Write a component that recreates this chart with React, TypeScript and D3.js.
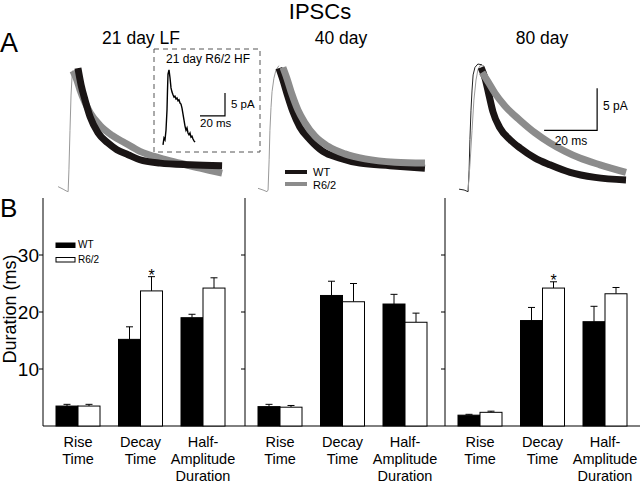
import React from "react"
import * as d3 from "d3"

// ---- bar data (ms) ----
const categories = ["Rise Time", "Decay Time", "Half-Amplitude Duration"]
const catLines = [["Rise", "Time"], ["Decay", "Time"], ["Half-", "Amplitude", "Duration"]]
const ages = ["21 day LF", "40 day", "80 day"]

const wtMean = [
    [3.5, 15.2, 19.0],
    [3.4, 22.9, 21.4],
    [1.9, 18.5, 18.3]
]
const wtSem = [
    [0.3, 2.2, 0.6],
    [0.4, 2.5, 1.7],
    [0.15, 2.3, 2.7]
]
const r62Mean = [
    [3.5, 23.7, 24.2],
    [3.3, 21.8, 18.2],
    [2.4, 24.2, 23.2]
]
const r62Sem = [
    [0.3, 2.5, 1.8],
    [0.3, 3.2, 1.6],
    [0.2, 1.1, 1.1]
]
const signif = [
    [false, true, false],
    [false, false, false],
    [false, true, false]
]
const yTicks = [10, 20, 30]

// ---- IPSC traces, [ms, pA] ----
const rawTrace = [
    [[0.4, 0.4], [2.3, 0.1], [3.4, -0.1], [4.2, -0.2], [4.5, 2.4], [4.9, 7.1], [5.3, 11.3], [5.7, 13.6], [6.0, 14.2], [6.8, 13.9]],
    [[0, 0.2], [1.9, 0], [3.4, -0.2], [3.8, 0], [4.2, 3.6], [4.5, 7.1], [4.9, 9.8], [5.3, 11.7], [6.0, 13.3], [6.8, 14.3], [7.9, 14.8]],
    [[0.4, 0.1], [2.3, 0], [3.8, -0.2], [4.2, 2.4], [4.5, 6.0], [4.9, 9.5], [5.3, 11.9], [5.7, 13.7], [6.4, 14.6], [7.5, 15.0], [9.1, 14.9]]
]
const rawTraceGray80 = [[3.8, 0], [4.5, 3.0], [5.3, 7.1], [6.0, 10.7], [6.8, 13.1], [7.5, 14.3], [8.3, 14.8], [9.8, 14.8]]

const wtFit = [
    [[7.9, 14.5], [9.1, 12.5], [10.6, 10.7], [12.5, 8.7], [15.5, 6.8], [19.2, 5.6], [22.6, 4.8], [26.8, 4.2], [31.3, 3.6], [38.9, 3.2], [50.2, 3.0], [62.3, 2.9]],
    [[7.9, 14.5], [9.4, 13.1], [11.3, 11.1], [13.2, 9.3], [15.8, 7.5], [19.6, 6.0], [24.5, 4.6], [30.9, 3.8], [38.5, 3.2], [49.8, 2.9], [63.0, 2.6]],
    [[8.7, 14.6], [10.2, 13.3], [11.7, 11.3], [13.2, 9.3], [15.8, 7.4], [19.6, 6.0], [23.4, 5.0], [29.1, 3.8], [34.7, 3.0], [42.3, 2.1], [51.7, 1.5], [63.4, 1.2]]
]
const r62Fit = [
    [[6.0, 14.2], [7.5, 13.1], [8.7, 11.9], [10.6, 10.4], [12.5, 9.2], [16.2, 7.7], [20.8, 6.5], [25.7, 5.6], [31.3, 4.6], [38.9, 3.8], [46.4, 3.2], [54.0, 2.6], [62.3, 2.0]],
    [[9.4, 14.6], [10.9, 13.3], [12.8, 11.4], [15.1, 9.5], [17.7, 8.0], [21.5, 6.4], [26.4, 5.2], [32.8, 4.3], [40.4, 3.7], [51.7, 3.3], [63.0, 3.2]],
    [[9.1, 14.0], [11.3, 12.9], [14.0, 11.5], [17.7, 10.0], [23.4, 8.3], [29.1, 6.8], [34.7, 5.6], [40.4, 4.6], [46.0, 3.8], [53.6, 3.0], [63.4, 2.1]]
]
// inset: 21 day R6/2 HF
const hfTrace = [
    [2.4, 1.1], [3.2, 2.6], [4.0, 2.2], [4.8, 4.3], [5.6, 8.7], [6.0, 13.0], [6.4, 16.5], [7.2, 17.4], [8.0, 15.7], [8.8, 13.5],
    [9.6, 12.6], [10.4, 12.0], [11.2, 11.5], [12.0, 11.7], [12.8, 11.1], [13.6, 11.3], [14.4, 10.7], [15.2, 10.9], [16.0, 10.2],
    [16.8, 10.0], [17.6, 9.1], [18.4, 7.8], [19.2, 6.5], [20.0, 5.2], [20.8, 4.3], [21.6, 4.8], [22.4, 3.7], [23.2, 3.3],
    [24.0, 3.7], [24.8, 2.8], [25.6, 3.0], [26.4, 2.4], [27.2, 2.0], [28.0, 1.7]
]

const FONT = "'Liberation Sans', Arial, Helvetica, sans-serif"
const BLACK = "#1a1515"
const GRAY = "#8c8c8c"

export default function App() {
    const width = 640
    const height = 483

    // panel B geometry
    const panelX = [43, 245, 445]
    const panelW = [202, 200, 195]
    const y = d3.scaleLinear().domain([0, 40]).range([426, 198])
    const barW = 22

    // panel A geometry
    const traceX0 = [57, 258, 458]
    const traceBase = 190
    const tScale = (i) => d3.scaleLinear().domain([0, 20]).range([traceX0[i], traceX0[i] + 53])
    const iScale = d3.scaleLinear().domain([0, 5]).range([traceBase, traceBase - 42])
    const lineFor = (i, curve) =>
        d3.line().x(d => tScale(i)(d[0])).y(d => iScale(d[1])).curve(curve)

    const insetT = d3.scaleLinear().domain([0, 20]).range([160, 185])
    const insetI = d3.scaleLinear().domain([0, 5]).range([150, 127])
    const insetLine = d3.line().x(d => insetT(d[0])).y(d => insetI(d[1]))

    const thick = 7

    const renderTraces = (i) => {
        const smooth = lineFor(i, d3.curveMonotoneX)
        const raw = lineFor(i, d3.curveLinear)
        const wt = <path key="wt" d={smooth(wtFit[i])} fill="none" stroke={BLACK} strokeWidth={thick} />
        const r6 = <path key="r6" d={smooth(r62Fit[i])} fill="none" stroke={GRAY} strokeWidth={thick} />
        return (
            <g key={"tr" + i}>
                <path d={raw(rawTrace[i])} fill="none" stroke={i === 2 ? "#222" : "#999"} strokeWidth={1} />
                {i === 2 && <path d={raw(rawTraceGray80)} fill="none" stroke="#999" strokeWidth={1} />}
                {i === 0 ? [r6, wt] : [wt, r6]}
            </g>
        )
    }

    const renderPanel = (p) => {
        const x0 = panelX[p]
        const x = d3.scalePoint().domain(categories).range([x0 + 35, x0 + 160])
        const bars = []
        categories.forEach((c, k) => {
            const cx = x(c)
            const groups = [
                { mean: wtMean[p][k], sem: wtSem[p][k], left: cx - barW, fill: "#000" },
                { mean: r62Mean[p][k], sem: r62Sem[p][k], left: cx, fill: "#fff" }
            ]
            groups.forEach((g, j) => {
                const mid = g.left + barW / 2
                bars.push(
                    <g key={c + j}>
                        <line x1={mid} x2={mid} y1={y(g.mean)} y2={y(g.mean + g.sem)} stroke="#000" strokeWidth={1} />
                        <line x1={mid - 3.5} x2={mid + 3.5} y1={y(g.mean + g.sem)} y2={y(g.mean + g.sem)} stroke="#000" strokeWidth={1} />
                        <rect x={g.left} y={y(g.mean)} width={barW} height={y(0) - y(g.mean)} fill={g.fill} stroke="#000" strokeWidth={1} />
                    </g>
                )
            })
            if (signif[p][k]) {
                const mid = cx + barW / 2
                bars.push(
                    <text key={c + "s"} x={mid} y={y(r62Mean[p][k] + r62Sem[p][k]) + 4} textAnchor="middle" fontSize={16} fontFamily={FONT}>*</text>
                )
            }
            catLines[k].forEach((ln, li) => {
                bars.push(
                    <text key={c + "l" + li} x={cx} y={447 + li * 17} textAnchor="middle" fontSize={14.5} fontFamily={FONT}>{ln}</text>
                )
            })
        })
        return (
            <g key={"p" + p}>
                <line x1={x0} x2={x0} y1={y(40)} y2={y(0)} stroke="#000" strokeWidth={1} />
                <line x1={x0} x2={x0 + panelW[p]} y1={y(0)} y2={y(0)} stroke="#000" strokeWidth={1} />
                {yTicks.map(t => (
                    <g key={t}>
                        <line x1={x0 - 4} x2={x0} y1={y(t)} y2={y(t)} stroke="#000" strokeWidth={1} />
                        {p === 0 && (
                            <text x={x0 - 4} y={y(t)} dy="0.35em" textAnchor="end" fontSize={19} fontFamily={FONT}>{t}</text>
                        )}
                    </g>
                ))}
                {bars}
            </g>
        )
    }

    const titleX = [141, 341, 542]

    return (
        <svg width={width} height={height} style={{ position: "absolute", left: 0, top: 0, background: "#fff" }} fontFamily={FONT}>
            <rect width={width} height={height} fill="#fff" />
            <text x={320} y={19} textAnchor="middle" fontSize={22}>IPSCs</text>
            <text x={0} y={52} fontSize={27}>A</text>
            <text x={0} y={217} fontSize={26}>B</text>
            {ages.map((a, i) => (
                <text key={a} x={titleX[i]} y={44} textAnchor="middle" fontSize={17.5}>{a}</text>
            ))}

            {[0, 1, 2].map(renderTraces)}

            {/* inset */}
            <rect x={154} y={49} width={106} height={103} fill="none" stroke="#555" strokeWidth={1} strokeDasharray="5,4" />
            <text x={208} y={63} textAnchor="middle" fontSize={12}>21 day R6/2 HF</text>
            <path d={insetLine(hfTrace)} fill="none" stroke="#000" strokeWidth={1.4} />
            <path d={`M${insetT(32)},${insetI(7.4)}H${insetT(52)}V${insetI(12.4)}`} fill="none" stroke="#000" strokeWidth={1.2} />
            <text x={231} y={108} fontSize={11.5}>5 pA</text>
            <text x={200} y={127} fontSize={11.5}>20 ms</text>

            {/* trace legend */}
            <line x1={285} x2={307} y1={172} y2={172} stroke={BLACK} strokeWidth={4} />
            <line x1={285} x2={307} y1={184} y2={184} stroke={GRAY} strokeWidth={4} />
            <text x={313} y={175.5} fontSize={11}>WT</text>
            <text x={313} y={188.5} fontSize={11}>R6/2</text>

            {/* 80 day scale bar */}
            <path d={`M${tScale(2)(32.5)},${iScale(7.1)}H${tScale(2)(52.5)}V${iScale(12.1)}`} fill="none" stroke="#000" strokeWidth={1.2} />
            <text x={603} y={110} fontSize={12}>5 pA</text>
            <text x={571} y={145} textAnchor="middle" fontSize={12}>20 ms</text>

            {[0, 1, 2].map(renderPanel)}

            {/* bar legend */}
            <rect x={56} y={243} width={19} height={4.5} fill="#000" stroke="#000" />
            <rect x={56} y={257.5} width={19} height={4.5} fill="#fff" stroke="#000" />
            <text x={78} y={248} fontSize={10}>WT</text>
            <text x={78} y={263} fontSize={10}>R6/2</text>

            <text transform="translate(15.5,309) rotate(-90)" textAnchor="middle" fontSize={18}>Duration (ms)</text>
        </svg>
    )
}
